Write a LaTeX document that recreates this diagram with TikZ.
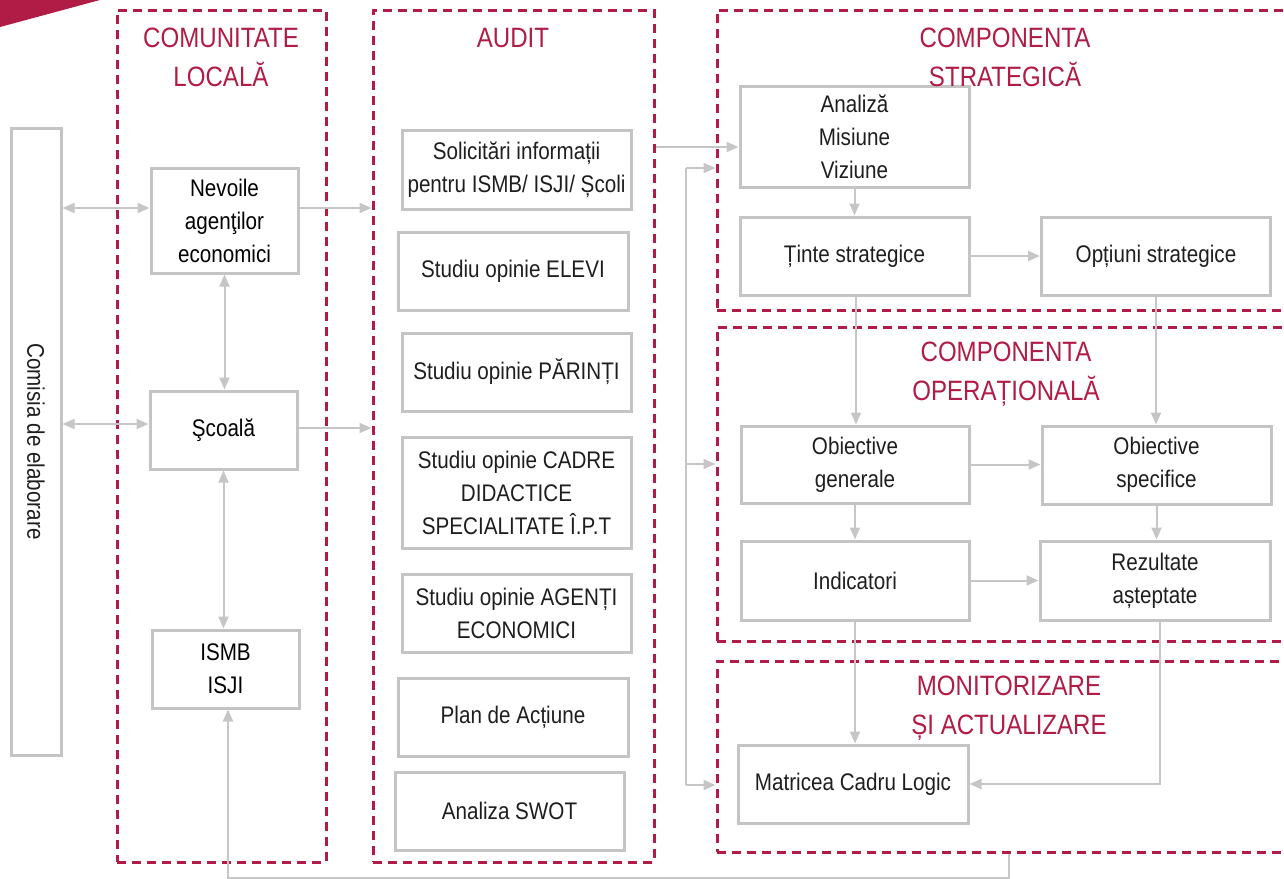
\documentclass[tikz,border=0pt]{standalone}
\usepackage{fontspec}
\setmainfont{Liberation Sans}[FakeStretch=0.86]
\usetikzlibrary{arrows.meta}
\definecolor{crim}{HTML}{B01C45}
\definecolor{bgray}{HTML}{C4C4C4}
\definecolor{cgray}{HTML}{C6C6C6}
\definecolor{txt}{HTML}{1E1E1E}
\begin{document}
\begin{tikzpicture}[x=1pt,y=-1pt,
  >={Triangle[length=12pt,width=10pt]},
  box/.style={draw=bgray, line width=3pt, align=center, inner sep=1pt, text=txt, font=\fontsize{24}{33}\selectfont},
  cont/.style={draw=crim, line width=3pt, dash pattern=on 9pt off 6pt, inner sep=0pt},
  ttl/.style={text=crim, align=center, font=\fontsize{28}{39}\selectfont},
  conn/.style={draw=cgray, line width=2pt},
  sz/.style 2 args={minimum width=#1, minimum height=#2}]
\path[use as bounding box] (0,0) rectangle (1284,878);
\clip (0,0) rectangle (1284,878);
\fill[crim] (0,0) -- (100,0) -- (0,27) -- cycle;

% containers
\node[cont, sz={209}{852}] (comm) at (221.5,436) {};
\node[cont, sz={281}{852}] (audit) at (513.5,436) {};
\node[cont, sz={583}{300}] (strat) at (1008.5,160) {};
\node[cont, sz={583}{314}] (oper) at (1008.5,484) {};
\node[cont, sz={583}{191}] (monit) at (1008.5,756.5) {};

% left column
\node[box, rotate=-90, sz={627}{50}] (comisia) at (36,441.5) {Comisia de elaborare};
\node[box, sz={147}{105}, text=black] (nev) at (224.5,220.5) {Nevoile\\agenţilor\\economici};
\node[box, sz={147}{78}, text=black] (scoala) at (223.5,430) {Şcoală};
\node[box, sz={147}{78}, text=black] (ismb) at (225.5,669) {ISMB\\ISJI};

% audit column
\node[box, sz={229}{79}] (sol) at (516.5,169.5) {Solicitări informații\\pentru ISMB/ ISJI/ Școli};
\node[box, sz={230}{78}] (elevi) at (513,271) {Studiu opinie ELEVI};
\node[box, sz={229}{78}] (parinti) at (516.5,372) {Studiu opinie PĂRINȚI};
\node[box, sz={229}{111}] (cadre) at (516.5,492.5) {Studiu opinie CADRE\\DIDACTICE\\SPECIALITATE Î.P.T};
\node[box, sz={229}{78}] (agenti) at (516.5,613) {Studiu opinie AGENȚI\\ECONOMICI};
\node[box, sz={230}{78}] (plan) at (513,717) {Plan de Acțiune};
\node[box, sz={229}{78}] (swot) at (509.5,811) {Analiza SWOT};

% right part
\node[box, sz={229}{101}] (an) at (854.5,136.5) {Analiză\\Misiune\\Viziune};
\node[box, sz={229}{78}] (tinte) at (854.5,256) {Ținte strategice};
\node[box, sz={229}{78}] (opt) at (1156,256) {Opțiuni strategice};
\node[box, sz={228}{77}] (obg) at (855,464.5) {Obiective\\generale};
\node[box, sz={229}{78}] (obs) at (1156.5,465) {Obiective\\specifice};
\node[box, sz={228}{79}] (ind) at (855,580.5) {Indicatori};
\node[box, sz={230}{79}] (rez) at (1155,580.5) {Rezultate\\așteptate};
\node[box, sz={230}{78}] (mat) at (853,784) {Matricea Cadru Logic};

% titles
\node[ttl] (t1) at (221,57.5) {COMUNITATE\\LOCALĂ};
\node[ttl] (t2) at (513,38) {AUDIT};
\node[ttl] (t3) at (1005,57.5) {COMPONENTA\\STRATEGICĂ};
\node[ttl] (t4) at (1006,374.5) {COMPONENTA\\OPERAȚIONALĂ};
\node[ttl] (t5) at (1009,708.5) {MONITORIZARE\\ȘI ACTUALIZARE};

% connectors left
\draw[conn,<->] ([yshift=12.5pt]nev.west -| comisia.north) -- ([yshift=12.5pt]nev.west);
\draw[conn,<->] ([yshift=6pt]scoala.west -| comisia.north) -- ([yshift=6pt]scoala.west);
\draw[conn,->] ([yshift=12.5pt]nev.east) -- ([yshift=12.5pt]nev.east -| audit.west);
\draw[conn,->] ([yshift=2pt]scoala.east) -- ([yshift=2pt]scoala.east -| audit.west);
\draw[conn,<->] (nev.south) -- (nev.south |- scoala.north);
\draw[conn,<->] (scoala.south) -- (scoala.south |- ismb.north);
\draw[conn,->] (monit.south) -- ++(0,24) -| ([xshift=2.5pt]ismb.south);

% audit to strategy
\draw[conn,->] ([yshift=-10.5pt]an.west -| audit.east) -- ([yshift=-10.5pt]an.west);
\coordinate (fbtop) at (686,168);
\coordinate (fbmid) at (686,464);
\coordinate (fbbot) at (686,785);
\draw[conn] (fbtop) -- (fbbot);
\draw[conn,->] (fbtop) -- (fbtop -| strat.west);
\draw[conn,->] (fbmid) -- (fbmid -| oper.west);
\draw[conn,->] (fbbot) -- (fbbot -| monit.west);

% right connectors
\draw[conn,->] (an.south) -- (an.south |- tinte.north);
\draw[conn,->] (tinte.east) -- (tinte.east -| opt.west);
\draw[conn,->] ([xshift=1.5pt]tinte.south) -- ([xshift=1.5pt]tinte.south |- obg.north);
\draw[conn,->] (opt.south) -- (opt.south |- obs.north);
\draw[conn,->] (obg.east) -- (obg.east -| obs.west);
\draw[conn,->] (obg.south) -- (obg.south |- ind.north);
\draw[conn,->] (obs.south) -- (obs.south |- rez.north);
\draw[conn,->] (ind.east) -- (ind.east -| rez.west);
\draw[conn,->] (ind.south) -- (ind.south |- mat.north);
\draw[conn,->] ([xshift=5pt]rez.south) |- (mat.east);
\end{tikzpicture}
\end{document}
